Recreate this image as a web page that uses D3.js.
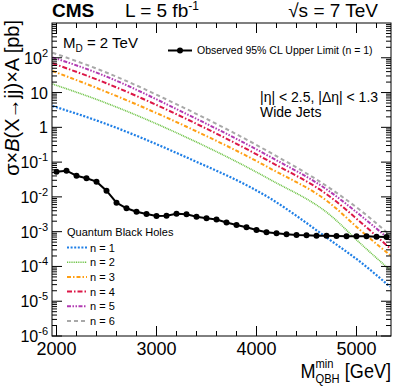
<!DOCTYPE html>
<html><head><meta charset="utf-8">
<script src="https://cdn.jsdelivr.net/npm/d3@7"></script>
<style>
body{margin:0;background:#fff}
svg{display:block}
text{font-family:"Liberation Sans",Arial,Helvetica,sans-serif;fill:#000}
</style>
</head><body>
<svg id="c" width="399" height="387"></svg>
<script>
// ---------- data ----------
const massObs = [2000,2100,2200,2300,2400,2500,2600,2700,2800,2900,3000,3100,3200,3300,3400,3500,3600,3700,3800,3900,4000,4100,4200,4300,4400,4500,4600,4700,4800,4900,5000,5100,5200,5300];
const obsLimit = [0.0531,0.0566,0.0407,0.0343,0.0274,0.0151,0.00681,0.00470,0.00375,0.00322,0.00282,0.00288,0.00329,0.00316,0.00270,0.00243,0.00223,0.00184,0.00156,0.00134,0.00112,0.00096,0.000898,0.000841,0.000803,0.000787,0.000766,0.000766,0.000751,0.000736,0.000736,0.000736,0.000718,0.000703];

const massTheory = [1960,2435,3285,4135,4735,5035,5335];
const qbhN1 = [4.11,1.45,0.143,0.00912,0.000577,0.000137,0.0000262];
const qbhN2 = [17.6,5.83,0.538,0.0316,0.00302,0.00047,0.000079];
const qbhN3 = [41.7,12.4,1.094,0.0664,0.00655,0.00112,0.000214];
const qbhN4 = [69.3,21.9,1.82,0.1028,0.01014,0.00194,0.000333];
const qbhN5 = [103,34.2,2.54,0.143,0.0141,0.00302,0.000577];
const qbhN6 = [140,44.6,3.52,0.189,0.01766,0.0042,0.0008];
const seriesLabels = ["n = 1","n = 2","n = 3","n = 4","n = 5","n = 6"];

const xTickValues = [2000,3000,4000,5000];
const yTickExponents = [-6,-5,-4,-3,-2,-1,0,1,2];

// ---------- styles ----------
const seriesStyles = [
  {color:"#1f7fe6", dash:"2,1.6", w:2.2},
  {color:"#6cc244", dash:"1,0.8", w:1.6},
  {color:"#ff9f14", dash:"4,2,1.5,2", w:2},
  {color:"#dc1747", dash:"5,2,1.5,2", w:2},
  {color:"#b23ab2", dash:"4,1.5,1.5,1.5,1.5,1.5", w:2},
  {color:"#a8a8a8", dash:"4,3", w:2}
];
const seriesValues = [qbhN1,qbhN2,qbhN3,qbhN4,qbhN5,qbhN6];

// ---------- scales ----------
const L=52,R=391,T=23,B=336;
const x = d3.scaleLinear().domain([1955,5345]).range([L,R]);
const y = d3.scaleLog().domain([1e-6,1e3]).range([B,T]);

const svg = d3.select("#c");
svg.append("defs").append("clipPath").attr("id","clip")
  .append("rect").attr("x",L).attr("y",T).attr("width",R-L).attr("height",B-T);

// ---------- theory curves ----------
const lineT = d3.line().x(d=>x(d[0])).y(d=>y(d[1])).curve(d3.curveMonotoneX);
const gCurves = svg.append("g").attr("clip-path","url(#clip)");
seriesValues.forEach((vals,i)=>{
  const st = seriesStyles[i];
  gCurves.append("path")
    .attr("d", lineT(massTheory.map((m,j)=>[m,vals[j]])))
    .attr("fill","none").attr("stroke",st.color)
    .attr("stroke-width",st.w).attr("stroke-dasharray",st.dash);
});

// ---------- observed ----------
const obsData = massObs.map((m,i)=>[m,obsLimit[i]]);
const lineO = d3.line().x(d=>x(d[0])).y(d=>y(d[1]));
gCurves.append("path").attr("d",lineO(obsData))
  .attr("fill","none").attr("stroke","#000").attr("stroke-width",2);
gCurves.selectAll("circle.obs").data(obsData).enter().append("circle")
  .attr("class","obs").attr("cx",d=>x(d[0])).attr("cy",d=>y(d[1])).attr("r",3).attr("fill","#000");

// ---------- axes / frame ----------
const gAx = svg.append("g").attr("stroke","#000").attr("stroke-width",1);
gAx.append("rect").attr("x",L).attr("y",T).attr("width",R-L).attr("height",B-T)
  .attr("fill","none");
const xMinor = d3.range(2000,5345,200).filter(v=>v%1000!==0);
function xTick(v,len){
  gAx.append("line").attr("x1",x(v)).attr("x2",x(v)).attr("y1",B).attr("y2",B-len);
  gAx.append("line").attr("x1",x(v)).attr("x2",x(v)).attr("y1",T).attr("y2",T+len);
}
xTickValues.forEach(v=>xTick(v,10));
xMinor.forEach(v=>xTick(v,5));
function yTick(v,len){
  gAx.append("line").attr("x1",L).attr("x2",L+len).attr("y1",y(v)).attr("y2",y(v));
  gAx.append("line").attr("x1",R).attr("x2",R-len).attr("y1",y(v)).attr("y2",y(v));
}
for(let k=-6;k<=2;k++){
  yTick(Math.pow(10,k),10);
  for(let m=2;m<=9;m++) yTick(m*Math.pow(10,k),5);
}

// x tick labels
svg.selectAll("text.xl").data(xTickValues).enter().append("text")
  .attr("class","xl").attr("x",d=>x(d)).attr("y",355).attr("text-anchor","middle")
  .attr("font-size",18).text(d=>d);

// y tick labels
yTickExponents.forEach(k=>{
  const t = svg.append("text").attr("x",48).attr("y",y(Math.pow(10,k))+6)
    .attr("text-anchor","end").attr("font-size",16);
  if(k===0){ t.text("1"); }
  else if(k===1){ t.text("10"); }
  else {
    t.append("tspan").text("10");
    t.append("tspan").attr("dy",-7).attr("font-size",11).text(String(k));
  }
});

// ---------- axis titles ----------
const gxt = svg.append("g").attr("transform","translate(391,378) scale(0.86,1)");
const tGeV = gxt.append("text").attr("x",0).attr("y",0).attr("text-anchor","end").attr("font-size",21).text("[GeV]");
const wGeV = tGeV.node().getComputedTextLength() + 6;
const tQBH = gxt.append("text").attr("x",-wGeV).attr("y",5).attr("text-anchor","end").attr("font-size",13).text("QBH");
const wQBH = tQBH.node().getComputedTextLength();
gxt.append("text").attr("x",-wGeV-wQBH).attr("y",-10).attr("text-anchor","start").attr("font-size",13).text("min");
gxt.append("text").attr("x",-wGeV-wQBH).attr("y",0).attr("text-anchor","end").attr("font-size",21).text("M");

const yt = svg.append("text").attr("transform","translate(19,20) rotate(-90)")
  .attr("text-anchor","end").attr("font-size",20);
yt.append("tspan").text("σ×");
yt.append("tspan").attr("font-style","italic").text("B");
yt.append("tspan").text("(X→jj)×A [pb]");

// ---------- header ----------
svg.append("text").attr("x",52).attr("y",17).attr("font-size",19).attr("font-weight","bold").text("CMS");
const lt = svg.append("text").attr("x",125).attr("y",17).attr("font-size",19);
lt.append("tspan").text("L = 5 fb");
lt.append("tspan").attr("dy",-7).attr("font-size",12).text("-1");
svg.append("text").attr("x",378).attr("y",17).attr("text-anchor","end").attr("font-size",19).text("√s = 7 TeV");

// ---------- annotations ----------
const md = svg.append("text").attr("x",63).attr("y",48).attr("font-size",15);
md.append("tspan").text("M");
md.append("tspan").attr("dy",4).attr("font-size",10).text("D");
md.append("tspan").attr("dy",-4).text(" = 2 TeV");
svg.append("text").attr("x",260).attr("y",102).attr("font-size",14).text("|η| < 2.5, |Δη| < 1.3");
svg.append("text").attr("x",260).attr("y",117).attr("font-size",14).text("Wide Jets");

// ---------- legends ----------
svg.append("line").attr("x1",168).attr("x2",192).attr("y1",50.5).attr("y2",50.5).attr("stroke","#000").attr("stroke-width",2);
svg.append("circle").attr("cx",180).attr("cy",50.5).attr("r",3).attr("fill","#000");
svg.append("text").attr("x",197).attr("y",54).attr("font-size",10.5).text("Observed 95% CL Upper Limit (n = 1)");

svg.append("text").attr("x",67).attr("y",236).attr("font-size",11).text("Quantum Black Holes");
seriesLabels.forEach((lab,i)=>{
  const yy = 247.5 + i*14.7;
  const st = seriesStyles[i];
  svg.append("line").attr("x1",67).attr("x2",87).attr("y1",yy).attr("y2",yy)
    .attr("stroke",st.color).attr("stroke-width",st.w).attr("stroke-dasharray",st.dash);
  svg.append("text").attr("x",90).attr("y",yy+4).attr("font-size",11).text(lab);
});
</script>
</body></html>
